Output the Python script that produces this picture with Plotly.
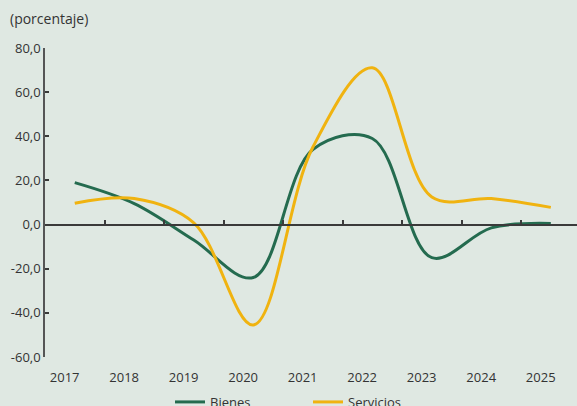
import plotly.graph_objects as go

years = [2017, 2018, 2019, 2020, 2021, 2022, 2023, 2024, 2025]
bienes = [19.0, 9.5, -7.0, -24.0, 34.0, 39.0, -15.0, -1.5, 0.5]
servicios = [9.7, 11.8, 0.8, -45.5, 35.0, 71.0, 12.5, 11.8, 7.8]
y_ticks = [-60, -40, -20, 0, 20, 40, 60, 80]
y_labels = ["-60,0", "-40,0", "-20,0", "0,0", "20,0", "40,0", "60,0", "80,0"]
year_labels = [str(y) for y in years]

GREEN = "#246b4f"
YELLOW = "#f0b310"
BG = "#dfe8e2"
TXT = "#333333"
FONT = "Open Sans"

fig = go.Figure()
fig.add_trace(go.Scatter(x=years, y=bienes, name="Bienes", mode="lines",
                         line=dict(color=GREEN, width=3, shape="spline", smoothing=1.0)))
fig.add_trace(go.Scatter(x=years, y=servicios, name="Servicios", mode="lines",
                         line=dict(color=YELLOW, width=3, shape="spline", smoothing=1.0)))
# invisible helper trace so the zero-line axis is drawn
fig.add_trace(go.Scatter(x=years, y=[0] * len(years), xaxis="x2", mode="lines",
                         line=dict(width=0), showlegend=False, hoverinfo="skip"))

xr = [2016.5, 2025.44]
fig.update_layout(
    width=577, height=406,
    margin=dict(l=45, r=0, t=48, b=49, autoexpand=False),
    paper_bgcolor=BG, plot_bgcolor=BG,
    font=dict(family=FONT, size=13, color=TXT),
    separators=",.",
    showlegend=True,
    legend=dict(orientation="h", x=0.235, xanchor="left", y=-0.097, yanchor="top",
                font=dict(size=13, color=TXT), entrywidth=93, entrywidthmode="pixels",
                bgcolor="rgba(0,0,0,0)"),
    xaxis=dict(range=xr, showgrid=False, zeroline=False, showline=False,
               tickvals=[y - 0.17 for y in years], ticktext=year_labels,
               ticks="", ticklabelstandoff=11, tickfont=dict(size=13, color=TXT)),
    xaxis2=dict(range=xr, overlaying="x", anchor="free", position=60 / 140, side="bottom",
                showgrid=False, zeroline=False, showline=True, linecolor="#3a3a3a", linewidth=1.5,
                showticklabels=False, ticks="inside", ticklen=4, tickwidth=1.5, tickcolor="#3a3a3a",
                tickvals=[y + 0.5 for y in years[:-1]]),
    yaxis=dict(range=[-60, 80], showgrid=False, zeroline=False, showline=True,
               linecolor="#555555", linewidth=1.5, ticks="inside", ticklen=4, tickwidth=1.5,
               tickcolor="#3a3a3a", tickvals=y_ticks, ticktext=y_labels,
               tickfont=dict(size=13, color=TXT)),
    annotations=[dict(text="(porcentaje)", xref="paper", yref="paper", x=-37 / 532, y=(357 - 18) / 309,
                      xanchor="left", yanchor="middle", showarrow=False,
                      font=dict(size=14, color=TXT))],
)

fig.write_html("out.html", config={"displayModeBar": False},
               post_script="document.body.style.margin='0';document.body.style.padding='0';")
